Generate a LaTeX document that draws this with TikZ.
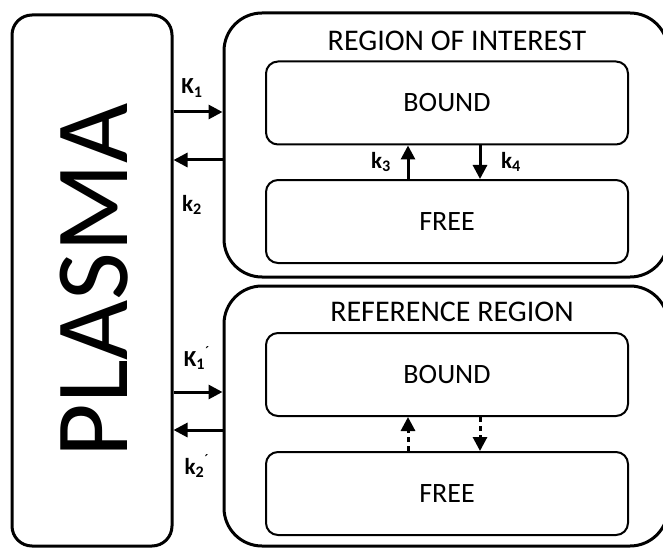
\documentclass[tikz,border=0pt]{standalone}
\usepackage{fontspec}
\setmainfont{Carlito}
\usetikzlibrary{positioning, calc, arrows.meta}

\tikzset{
    outerbox/.style={draw, line width=3pt, rounded corners=38pt},
    innerbox/.style={draw, line width=2pt, rounded corners=12pt, minimum width=362pt, minimum height=83pt, font=\fontsize{28}{32}\selectfont},
    title/.style={font=\fontsize{30}{34}\selectfont, inner sep=0pt},
    rate/.style={font=\bfseries\fontsize{23}{26}\selectfont, inner sep=0pt},
    flow/.style={line width=3pt, -{Triangle[length=14pt, width=14pt]}},
    weakflow/.style={flow, dash pattern=on 5pt off 4pt},
}

\begin{document}
\begin{tikzpicture}[x=1pt, y=-1pt]
    \useasboundingbox (0,0) rectangle (663,548);
    \clip (0,0) rectangle (663,548);

    % compartments
    \node[draw, line width=3pt, rounded corners=20pt, minimum width=160pt, minimum height=531pt] (plasma) at (92,280.5) {};
    \node[rotate=90, font=\fontsize{104}{104}\selectfont, inner sep=0pt] (plasmatext) at ([xshift=2pt] plasma.center) {PLASMA};
    \node[outerbox, minimum width=444pt, minimum height=264pt] (roi) at (446,145) {};
    \node[outerbox, minimum width=444pt, minimum height=260pt] (ref) at (446,416) {};

    % titles
    \node[title] (roititle) at (457,41) {REGION OF INTEREST};
    \node[title] (reftitle) at (452,312) {REFERENCE REGION};

    % bound and free pools
    \node[innerbox] (bound1) at (447,103) {BOUND};
    \node[innerbox] (free1) at (447,221.5) {FREE};
    \node[innerbox] (bound2) at (447,374.5) {BOUND};
    \node[innerbox] (free2) at (447,493.5) {FREE};

    % exchange with plasma
    \draw[flow] (plasma.east |- 0,112) -- (roi.west |- 0,112);
    \draw[flow] (roi.west |- 0,160) -- (plasma.east |- 0,160);
    \draw[flow] (plasma.east |- 0,392) -- (ref.west |- 0,392);
    \draw[flow] (ref.west |- 0,430) -- (plasma.east |- 0,430);

    % binding
    \draw[flow] ([xshift=-39pt] free1.north) -- ([xshift=-39pt] bound1.south);
    \draw[flow] ([xshift=33pt] bound1.south) -- ([xshift=33pt] free1.north);
    \draw[weakflow] ([xshift=-39pt] free2.north) -- ([xshift=-39pt] bound2.south);
    \draw[weakflow] ([xshift=33pt] bound2.south) -- ([xshift=33pt] free2.north);

    % rate constants
    \node[rate] (K1) at (192,88) {K\textsubscript{1}};
    \node[rate] (k2) at (192,205) {k\textsubscript{2}};
    \node[rate] (K1p) at (197,358) {K\textsubscript{1}\textsuperscript{\mdseries ´}};
    \node[rate] (k2p) at (197,466) {k\textsubscript{2}\textsuperscript{\mdseries ´}};
    \node[rate] (k3) at (381,162) {k\textsubscript{3}};
    \node[rate] (k4) at (511,162) {k\textsubscript{4}};
\end{tikzpicture}
\end{document}
